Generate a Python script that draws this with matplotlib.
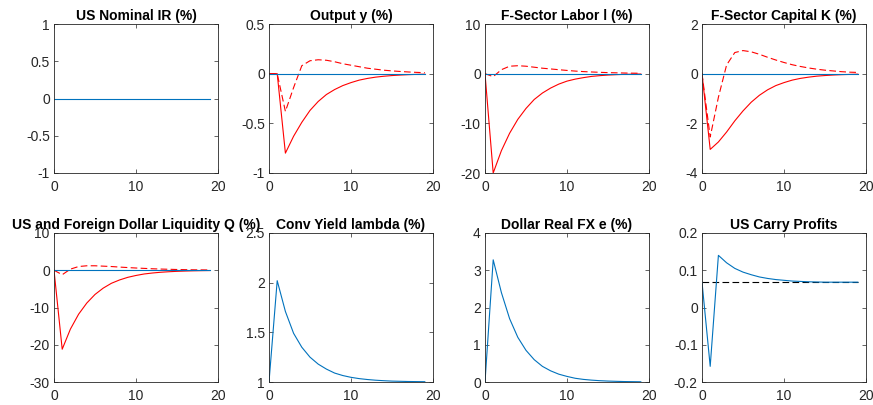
import matplotlib
matplotlib.use("Agg")
import matplotlib.pyplot as plt
import numpy as np

plt.rcParams['font.family'] = ['Liberation Sans', 'DejaVu Sans']

# periods 0..19
t = np.arange(20)

ir_us = [0.0] * 20

y_solid = [0, 0, -0.80, -0.63, -0.49, -0.37, -0.28, -0.21, -0.16, -0.12,
           -0.09, -0.065, -0.048, -0.035, -0.026, -0.019, -0.014, -0.010, -0.007, -0.005]
y_dash = [0, 0, -0.38, -0.14, 0.08, 0.13, 0.14, 0.135, 0.12, 0.10,
          0.085, 0.07, 0.055, 0.045, 0.035, 0.028, 0.022, 0.017, 0.013, 0.01]

l_solid = [0, -20, -15.5, -12, -9.2, -7, -5.2, -3.9, -2.9, -2.1,
           -1.5, -1.1, -0.8, -0.55, -0.4, -0.28, -0.2, -0.14, -0.1, -0.07]
l_dash = [0, -0.6, 0.8, 1.5, 1.6, 1.5, 1.3, 1.1, 0.95, 0.8,
          0.65, 0.52, 0.42, 0.34, 0.27, 0.21, 0.17, 0.13, 0.1, 0.08]

k_solid = [0, -3.05, -2.75, -2.35, -1.9, -1.5, -1.15, -0.87, -0.65, -0.48,
           -0.36, -0.26, -0.19, -0.14, -0.1, -0.075, -0.055, -0.04, -0.03, -0.02]
k_dash = [0, -2.55, -0.95, 0.35, 0.85, 0.93, 0.88, 0.78, 0.66, 0.55,
          0.45, 0.36, 0.29, 0.23, 0.18, 0.14, 0.11, 0.08, 0.06, 0.05]

q_solid = [0, -21.2, -15.8, -11.8, -8.8, -6.5, -4.8, -3.5, -2.6, -1.9,
           -1.4, -1.0, -0.74, -0.54, -0.4, -0.29, -0.21, -0.15, -0.11, -0.08]
q_dash = [0, -1.2, 0.3, 1.0, 1.2, 1.2, 1.1, 1.0, 0.85, 0.72,
          0.6, 0.5, 0.4, 0.32, 0.26, 0.2, 0.16, 0.12, 0.1, 0.08]

lam = [1, 2.02, 1.71, 1.49, 1.35, 1.25, 1.18, 1.13, 1.09, 1.065,
       1.047, 1.034, 1.025, 1.018, 1.013, 1.009, 1.007, 1.005, 1.004, 1.003]

fx = [0, 3.28, 2.4, 1.7, 1.2, 0.85, 0.6, 0.42, 0.3, 0.21,
      0.15, 0.1, 0.07, 0.05, 0.035, 0.025, 0.018, 0.012, 0.009, 0.006]

carry = [0.068, -0.158, 0.14, 0.12, 0.105, 0.095, 0.088, 0.082, 0.078, 0.075,
         0.073, 0.071, 0.070, 0.069, 0.0685, 0.068, 0.068, 0.068, 0.068, 0.068]
carry_ss = 0.068

titles = ['US Nominal IR (%)', 'Output y (%)', 'F-Sector Labor l (%)', 'F-Sector Capital K (%)',
          'US and Foreign Dollar Liquidity Q (%)', 'Conv Yield lambda (%)',
          'Dollar Real FX e (%)', 'US Carry Profits']
ylims = [(-1, 1), (-1, 0.5), (-20, 10), (-4, 2), (-30, 10), (1, 2.5), (0, 4), (-0.2, 0.2)]
yticks = [[-1, -0.5, 0, 0.5, 1], [-1, -0.5, 0, 0.5], [-20, -10, 0, 10], [-4, -2, 0, 2],
          [-30, -20, -10, 0, 10], [1, 1.5, 2, 2.5], [0, 1, 2, 3, 4], [-0.2, -0.1, 0, 0.1, 0.2]]

blue = (0, 0.447, 0.741)
red = 'red'
axcol = (0.15, 0.15, 0.15)

W, H = 873, 405
fig = plt.figure(figsize=(W / 100, H / 100), dpi=100)
lefts = [54, 269, 485, 702]
tops = [24, 233]
aw, ah = 164, 149

axes = []
for r in range(2):
    for c in range(4):
        ax = fig.add_axes([lefts[c] / W, 1 - (tops[r] + ah) / H, aw / W, ah / H])
        axes.append(ax)

lw = 0.8
axes[0].plot(t, ir_us, color=blue, lw=lw)

axes[1].plot(t, y_solid, color=red, lw=lw)
axes[1].plot(t, y_dash, color=red, lw=lw, ls=(0, (6, 3)))
axes[1].plot(t, [0] * 20, color=blue, lw=lw)

axes[2].plot(t, l_solid, color=red, lw=lw)
axes[2].plot(t, l_dash, color=red, lw=lw, ls=(0, (6, 3)))
axes[2].plot(t, [0] * 20, color=blue, lw=lw)

axes[3].plot(t, k_solid, color=red, lw=lw)
axes[3].plot(t, k_dash, color=red, lw=lw, ls=(0, (6, 3)))
axes[3].plot(t, [0] * 20, color=blue, lw=lw)

axes[4].plot(t, q_solid, color=red, lw=lw)
axes[4].plot(t, q_dash, color=red, lw=lw, ls=(0, (6, 3)))
axes[4].plot(t, [0] * 20, color=blue, lw=lw)

axes[5].plot(t, lam, color=blue, lw=lw)
axes[6].plot(t, fx, color=blue, lw=lw)

axes[7].plot(t, [carry_ss] * 20, color='k', lw=lw, ls=(0, (6, 3)))
axes[7].plot(t, carry, color=blue, lw=lw)

for i, ax in enumerate(axes):
    ax.set_xlim(0, 20)
    ax.set_xticks([0, 10, 20])
    ax.set_ylim(*ylims[i])
    ax.set_yticks(yticks[i])
    ax.set_yticklabels([('%g' % v) for v in yticks[i]])
    ax.set_title(titles[i], fontsize=10, fontweight='bold', pad=3)
    ax.tick_params(direction='in', top=True, right=True, length=3, width=0.5,
                   labelsize=10, colors=axcol, labelcolor=axcol)
    ax.tick_params(axis='x', pad=5)
    ax.tick_params(axis='y', pad=3)
    for s in ax.spines.values():
        s.set_color(axcol)
        s.set_linewidth(0.6)

fig.savefig('out.png', dpi=100)
